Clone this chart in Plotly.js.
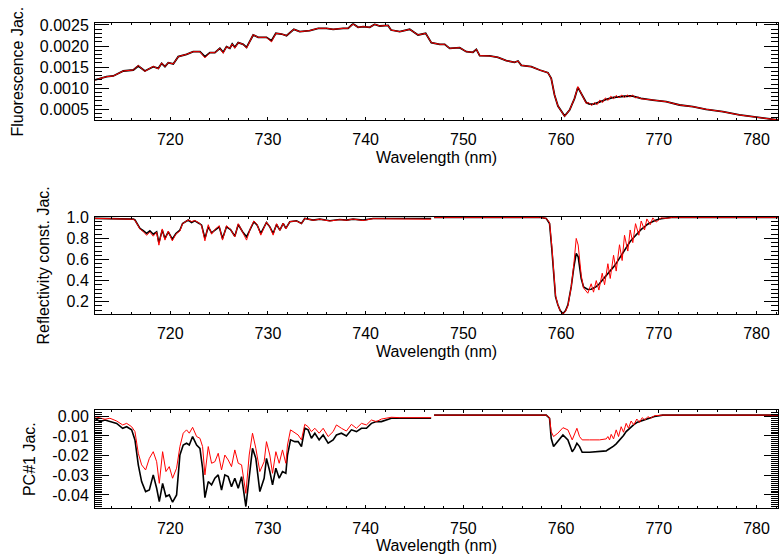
<!DOCTYPE html>
<html>
<head>
<meta charset="utf-8">
<script src="https://cdn.plot.ly/plotly-3.0.1.min.js"></script>
<style>html,body{margin:0;padding:0;background:#fff}#chart{width:784px;height:559px}</style>
</head>
<body>
<div id="chart"></div>
<script>
// ---------- data ----------
// Panel 1: Fluorescence Jacobian
var wlFluor = [712.3,713.49,714.17,715.2,716.22,716.73,717.41,718.26,718.78,719.12,719.46,719.8,720.31,720.82,721.67,722.35,723.04,723.55,724.06,724.57,725.08,725.42,725.76,726.1,726.34,726.61,726.96,727.47,727.81,728.15,728.49,729.0,729.85,730.36,730.81,731.39,731.9,732.65,733.26,734.28,735.14,735.99,736.67,737.69,738.2,738.71,739.23,739.74,740.42,740.93,741.44,742.29,742.6,743.49,744.51,745.36,746.14,746.72,747.58,748.09,748.6,749.62,750.3,750.98,751.33,751.67,752.69,753.54,754.39,755.24,755.59,755.93,756.95,757.8,758.65,758.99,759.33,759.68,760.19,760.36,760.87,761.38,761.72,762.06,762.57,762.85,763.13,763.41,763.69,763.97,764.25,764.53,764.81,765.09,765.37,765.65,765.93,766.21,766.49,766.77,767.05,767.33,767.61,767.89,768.17,769.39,770.75,772.12,773.48,774.84,776.55,778.25,779.96,782.2];
var fluorBlack = [0.001195,0.001274,0.00129,0.001409,0.001432,0.001527,0.001409,0.001511,0.001472,0.001591,0.001511,0.001606,0.001575,0.001749,0.001804,0.001867,0.001867,0.001749,0.001844,0.001844,0.001946,0.001852,0.001986,0.001946,0.002049,0.00197,0.002081,0.002041,0.00197,0.002105,0.002263,0.002207,0.002207,0.002128,0.002302,0.002286,0.002247,0.002397,0.002342,0.002366,0.002421,0.002421,0.002397,0.002421,0.002421,0.00253,0.002445,0.00246,0.002445,0.002516,0.002476,0.00249,0.00238,0.002342,0.002397,0.002263,0.002302,0.002081,0.002041,0.002041,0.001946,0.001962,0.001867,0.001852,0.001923,0.001772,0.001765,0.001733,0.001654,0.001614,0.001646,0.001543,0.001511,0.001432,0.001369,0.001235,0.000839,0.000578,0.000389,0.000341,0.000483,0.00076,0.001021,0.000879,0.00066,0.00063,0.00062,0.00063,0.00065,0.00068,0.0007,0.00073,0.00075,0.00077,0.00078,0.00079,0.0008,0.0008,0.00081,0.00081,0.00082,0.00081,0.00079,0.00077,0.00076,0.00072,0.000681,0.000602,0.000562,0.0005,0.000444,0.000365,0.00031,0.000246];
var fluorRed = [0.001195,0.001274,0.00129,0.001409,0.001432,0.00154,0.0014,0.00152,0.00146,0.0016,0.001511,0.001606,0.001575,0.001749,0.001804,0.001867,0.001867,0.00172,0.001844,0.001844,0.001946,0.00183,0.001986,0.001946,0.002049,0.00195,0.002081,0.002041,0.00195,0.002105,0.00227,0.002207,0.002207,0.0021,0.002302,0.002286,0.002247,0.002397,0.002342,0.002366,0.002421,0.002421,0.002397,0.002421,0.002421,0.00252,0.002445,0.00246,0.002445,0.002516,0.002476,0.00249,0.00238,0.002342,0.002397,0.002263,0.002302,0.002081,0.002041,0.002041,0.001946,0.001962,0.001867,0.001852,0.001923,0.001772,0.001765,0.001733,0.001654,0.001614,0.001646,0.001543,0.001511,0.001432,0.001369,0.001235,0.000839,0.000578,0.000389,0.00033,0.000483,0.00076,0.00104,0.000879,0.00064,0.00066,0.00059,0.00066,0.00061,0.00072,0.00066,0.00077,0.00071,0.00081,0.00075,0.00083,0.00077,0.00084,0.00078,0.00084,0.00079,0.00084,0.00077,0.00079,0.00075,0.00072,0.000681,0.000602,0.000562,0.0005,0.000444,0.000365,0.00031,0.000246];

// Panel 2: Reflectivity constant Jacobian
var wlRefl = [712.3,713.83,715.2,716.22,716.39,716.9,717.24,717.58,717.92,718.26,718.61,718.84,719.18,719.46,719.8,720.21,720.58,720.99,721.26,721.84,722.18,722.52,722.97,723.21,723.55,723.89,724.23,724.57,725.01,725.35,725.76,726.17,726.61,726.96,727.4,727.81,728.22,728.56,728.9,729.27,729.85,730.19,730.53,730.88,731.22,731.56,731.83,732.24,732.92,733.43,733.77,734.62,735.31,736.33,737.35,738.03,738.71,739.74,740.76,743.49,746.7,746.9,747.0,757.8,758.48,758.82,759.06,759.26,759.43,759.67,759.91,760.19,760.46,760.7,761.04,761.31,761.55,761.75,762.06,762.3,762.74,763.08,763.32,763.6,763.87,764.21,764.45,764.79,765.03,765.37,765.64,765.98,766.25,766.49,766.83,767.07,767.34,767.62,767.96,768.2,768.54,768.78,769.12,769.39,769.73,770.24,770.75,771.43,782.2];
var reflBlack = [0.99,0.989,0.987,0.983,0.975,0.895,0.873,0.847,0.873,0.84,0.863,0.758,0.879,0.8,0.863,0.793,0.847,0.879,0.942,0.974,0.951,0.967,0.942,0.926,0.8,0.91,0.853,0.879,0.91,0.8,0.91,0.884,0.821,0.932,0.863,0.815,0.895,0.958,0.926,0.847,0.951,0.91,0.847,0.932,0.879,0.942,0.895,0.958,0.967,0.942,0.989,0.974,0.983,0.967,0.98,0.974,0.983,0.974,0.989,0.989,0.989,null,1.0,1.0,0.99,0.942,0.69,0.438,0.248,0.17,0.116,0.085,0.116,0.17,0.342,0.531,0.658,0.626,0.42,0.34,0.316,0.318,0.328,0.342,0.365,0.40,0.425,0.46,0.49,0.53,0.563,0.615,0.655,0.69,0.74,0.77,0.80,0.83,0.86,0.885,0.91,0.93,0.948,0.96,0.974,0.986,0.995,1.0,1.0];
var reflRed = [0.99,0.988,0.986,0.982,0.972,0.89,0.865,0.83,0.86,0.821,0.86,0.736,0.89,0.784,0.87,0.777,0.84,0.87,0.94,0.975,0.96,0.97,0.945,0.92,0.777,0.93,0.84,0.885,0.92,0.784,0.92,0.885,0.815,0.94,0.86,0.784,0.9,0.965,0.93,0.831,0.955,0.91,0.831,0.94,0.875,0.945,0.89,0.96,0.965,0.94,0.99,0.972,0.982,0.965,0.978,0.972,0.983,0.97,0.987,0.985,0.982,null,1.0,1.0,0.99,0.95,0.72,0.46,0.26,0.17,0.115,0.085,0.11,0.16,0.34,0.56,0.8,0.737,0.45,0.33,0.28,0.37,0.29,0.40,0.31,0.47,0.36,0.56,0.42,0.64,0.49,0.74,0.59,0.83,0.68,0.88,0.76,0.94,0.83,0.965,0.88,0.985,0.93,0.995,0.955,0.995,0.99,1.0,1.0];

// Panel 3: PC#1 Jacobian
var wlPC = [712.3,712.81,713.32,713.83,714.52,715.13,715.54,716.05,716.39,716.73,717.07,717.48,717.86,718.26,718.61,718.88,719.22,719.56,719.9,720.24,720.65,720.99,721.33,721.67,721.95,722.29,722.7,723.04,723.31,723.55,723.89,724.23,724.57,724.91,725.25,725.59,725.93,726.27,726.61,726.96,727.3,727.74,728.08,728.42,728.76,729.17,729.61,729.85,730.19,730.47,730.81,731.15,731.49,731.83,732.0,732.31,732.75,733.09,733.43,733.77,734.11,734.45,734.8,735.24,735.65,736.16,736.67,737.01,737.52,738.03,738.54,739.06,739.57,740.08,740.59,741.1,741.61,742.12,742.63,743.49,746.7,746.9,747.0,758.48,758.82,758.99,759.23,759.67,760.19,760.7,761.14,761.38,761.62,761.89,762.16,762.91,763.93,764.62,764.79,764.96,765.13,765.37,765.64,765.88,766.15,766.39,766.66,766.9,767.17,767.44,767.75,768.03,768.3,768.57,768.88,769.15,769.56,770.4,782.2];
var pcBlack = [-0.0010,-0.0027,-0.0019,-0.0027,-0.0036,-0.0061,-0.0053,-0.0069,-0.0120,-0.0247,-0.0332,-0.0383,-0.0375,-0.0298,-0.0366,-0.0434,-0.0341,-0.0408,-0.0400,-0.0437,-0.0400,-0.0197,-0.0146,-0.0137,-0.0146,-0.0103,-0.0146,-0.0163,-0.0264,-0.0414,-0.0332,-0.0349,-0.0315,-0.0298,-0.0375,-0.0298,-0.0307,-0.0358,-0.0315,-0.0366,-0.0307,-0.0459,-0.0298,-0.0163,-0.0214,-0.0383,-0.0315,-0.0214,-0.0281,-0.0349,-0.0264,-0.0315,-0.0281,-0.0290,-0.0197,-0.0120,-0.0129,-0.0129,-0.0154,-0.0061,-0.0069,-0.0112,-0.0086,-0.0120,-0.0095,-0.0137,-0.0120,-0.0095,-0.0086,-0.0100,-0.0069,-0.0078,-0.0061,-0.0061,-0.0036,-0.0027,-0.0027,-0.0019,-0.0010,-0.0010,-0.0010,null,0.0006,0.0006,-0.0010,-0.0112,-0.0154,-0.0129,-0.0095,-0.0120,-0.0180,-0.0163,-0.0137,-0.0154,-0.0183,-0.0183,-0.0180,-0.0176,-0.0170,-0.0165,-0.0160,-0.0152,-0.0140,-0.0128,-0.0112,-0.0098,-0.0078,-0.0066,-0.0053,-0.0042,-0.0032,-0.0026,-0.0021,-0.0017,-0.0012,-0.0007,-0.0001,0.0006,0.0006];
var pcRed = [-0.0002,-0.0010,-0.0015,-0.0010,-0.0024,-0.0044,-0.0036,-0.0053,-0.0078,-0.0188,-0.0247,-0.0273,-0.0214,-0.0180,-0.0231,-0.0341,-0.0180,-0.0281,-0.0256,-0.0315,-0.0264,-0.0154,-0.0086,-0.0069,-0.0086,-0.0056,-0.0103,-0.0112,-0.0154,-0.0298,-0.0154,-0.0239,-0.0231,-0.0188,-0.0273,-0.0197,-0.0222,-0.0256,-0.0171,-0.0239,-0.0247,-0.0392,-0.0197,-0.0086,-0.0163,-0.0281,-0.0231,-0.0129,-0.0197,-0.0290,-0.0180,-0.0239,-0.0171,-0.0239,-0.0146,-0.0069,-0.0086,-0.0095,-0.0120,-0.0041,-0.0053,-0.0078,-0.0061,-0.0086,-0.0061,-0.0103,-0.0078,-0.0044,-0.0061,-0.0075,-0.0041,-0.0061,-0.0036,-0.0044,-0.0019,-0.0027,-0.0014,-0.0010,-0.0005,-0.0007,-0.0007,null,0.0006,0.0006,-0.0007,-0.0078,-0.0103,-0.0086,-0.0058,-0.0069,-0.0120,-0.0086,-0.0061,-0.0103,-0.0120,-0.0120,-0.0120,-0.0115,-0.0103,-0.0120,-0.0092,-0.0115,-0.0069,-0.0103,-0.0053,-0.0081,-0.0036,-0.0061,-0.0024,-0.0044,-0.0014,-0.0031,-0.0007,-0.0019,-0.0002,-0.0010,0.0003,0.0006,0.0006];

// tick labels
var wlTicks = [720,730,740,750,760,770,780];
var wlTickText = ['720','730','740','750','760','770','780'];
var fluorTicks = [0.0005,0.0010,0.0015,0.0020,0.0025];
var fluorTickText = ['0.0005','0.0010','0.0015','0.0020','0.0025'];
var reflTicks = [0.2,0.4,0.6,0.8,1.0];
var reflTickText = ['0.2','0.4','0.6','0.8','1.0'];
var pcTicks = [-0.04,-0.03,-0.02,-0.01,0.0];
var pcTickText = ['-0.04','-0.03','-0.02','-0.01','0.00'];

// ---------- figure ----------
var FONT = 'Liberation Sans, Arial, Helvetica, sans-serif';
var tf = {family: FONT, size: 16, color: '#000'};

function line(x, y, xa, ya, color, width) {
  return {x: x, y: y, xaxis: xa, yaxis: ya, type: 'scatter', mode: 'lines',
          line: {color: color, width: width}, hoverinfo: 'skip', showlegend: false, connectgaps: false};
}
var data = [
  line(wlFluor, fluorBlack, 'x', 'y', '#000000', 1.8),
  line(wlFluor, fluorRed, 'x', 'y', '#ff0000', 1.0),
  line(wlRefl, reflBlack, 'x2', 'y2', '#000000', 1.6),
  line(wlRefl, reflRed, 'x2', 'y2', '#ff0000', 1.0),
  line(wlPC, pcBlack, 'x3', 'y3', '#000000', 1.6),
  line(wlPC, pcRed, 'x3', 'y3', '#ff0000', 1.0)
];

function xAxis(anchor) {
  return {
    domain: [95/784, 778/784], anchor: anchor, range: [712.3, 782.2],
    tickmode: 'array', tickvals: wlTicks, ticktext: wlTickText,
    ticks: 'inside', ticklen: 3, tickwidth: 1, tickcolor: '#000',
    minor: {tickmode: 'linear', tick0: 0, dtick: 2, ticks: 'inside', ticklen: 2, tickcolor: '#000', tickwidth: 1},
    showline: true, linecolor: '#000', linewidth: 1, mirror: 'allticks',
    showgrid: false, zeroline: false, tickfont: tf, ticklabelstandoff: 5,
    automargin: false,
    title: {text: 'Wavelength (nm)', font: tf, standoff: 4}
  };
}
function yAxis(anchor, dom, rng, tv, tt, mdt, title) {
  return {
    domain: dom, anchor: anchor, range: rng,
    tickmode: 'array', tickvals: tv, ticktext: tt,
    ticks: 'inside', ticklen: 14, tickwidth: 1, tickcolor: '#000',
    minor: {tickmode: 'linear', tick0: 0, dtick: mdt, ticks: 'inside', ticklen: 7, tickcolor: '#000', tickwidth: 1},
    showline: true, linecolor: '#000', linewidth: 1, mirror: 'allticks',
    showgrid: false, zeroline: false, tickfont: tf, ticklabelstandoff: 2,
    automargin: false,
    title: {text: title, font: tf, standoff: 12}
  };
}

var layout = {
  width: 784, height: 559,
  margin: {l: 0, r: 0, t: 0, b: 0, pad: 0},
  paper_bgcolor: '#fff', plot_bgcolor: '#fff',
  font: tf, showlegend: false,
  xaxis: xAxis('y'),
  xaxis2: xAxis('y2'),
  xaxis3: xAxis('y3'),
  yaxis: yAxis('x', [1 - 120/559, 1 - 23.3/559], [0.000246, 0.00254], fluorTicks, fluorTickText, 0.0001, 'Fluorescence Jac.'),
  yaxis2: yAxis('x2', [1 - 314/559, 1 - 216.7/559], [0.083, 1.006], reflTicks, reflTickText, 0.04, 'Reflectivity const. Jac.'),
  yaxis3: yAxis('x3', [1 - 508.3/559, 1 - 410/559], [-0.0468, 0.0032], pcTicks, pcTickText, 0.001, 'PC#1 Jac.')
};

Plotly.newPlot('chart', data, layout, {displayModeBar: false, staticPlot: true});
</script>
</body>
</html>
